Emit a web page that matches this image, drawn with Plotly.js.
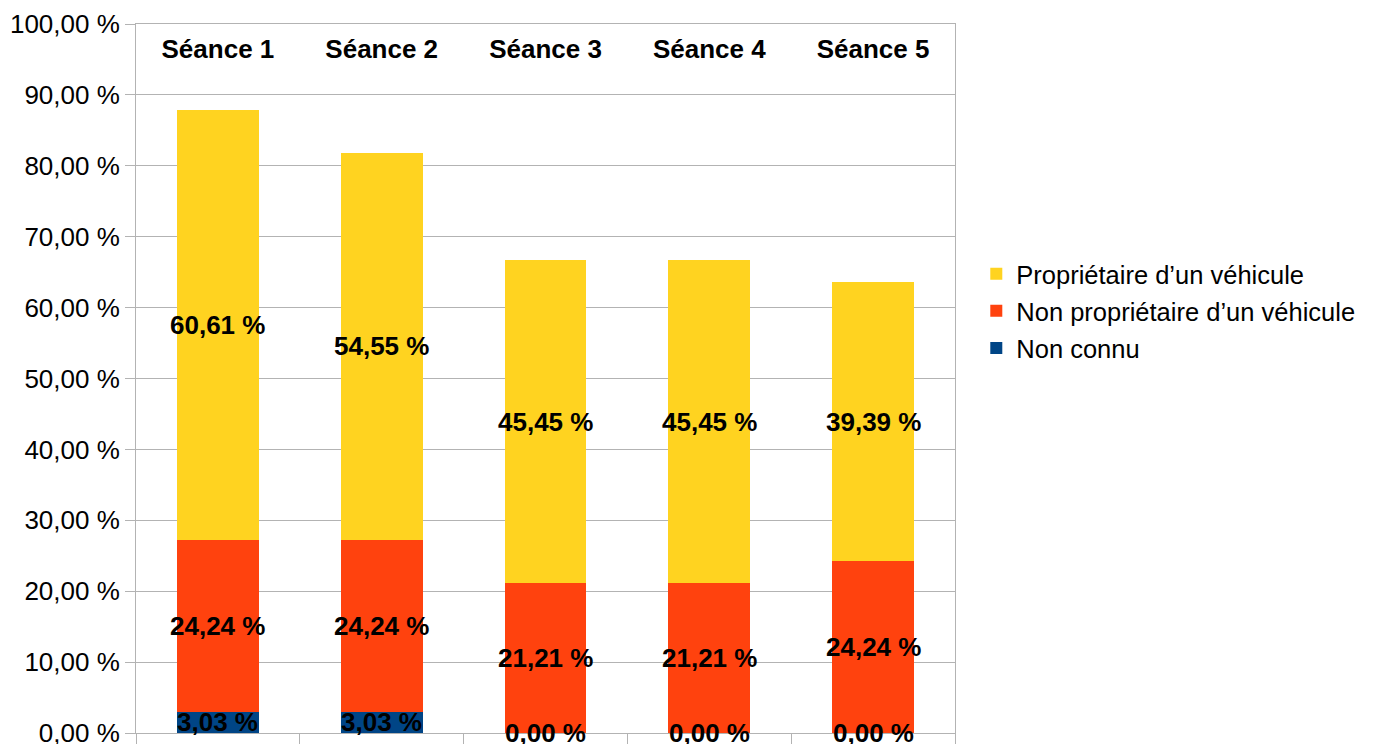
<!DOCTYPE html>
<html>
<head>
<meta charset="utf-8">
<script src="https://cdn.plot.ly/plotly-3.0.1.min.js"></script>
<style>html,body{margin:0;padding:0;background:#fff;}#chart{width:1376px;height:744px;}</style>
</head>
<body>
<div id="chart"></div>
<script>
const categories = ["Séance 1", "Séance 2", "Séance 3", "Séance 4", "Séance 5"];
const nonConnu = [3.03, 3.03, 0.00, 0.00, 0.00];
const nonProprietaire = [24.24, 24.24, 21.21, 21.21, 24.24];
const proprietaire = [60.61, 54.55, 45.45, 45.45, 39.39];
const seriesNames = ["Non connu", "Non propriétaire d’un véhicule", "Propriétaire d’un véhicule"];
const yTicks = [0, 10, 20, 30, 40, 50, 60, 70, 80, 90, 100];

const colors = ["#004586", "#ff420e", "#ffd320"];
const FONT = "Liberation Sans, Arial, sans-serif";
const series = [nonConnu, nonProprietaire, proprietaire];

function fmt(v) { return v.toFixed(2).replace(".", ",") + " %"; }

const traces = [];
series.forEach((vals, i) => {
  traces.push({
    type: "bar", x: categories, y: vals, name: seriesNames[i],
    xaxis: "x", yaxis: "y", legendgroup: "g" + i, legendrank: series.length - i,
    marker: {color: colors[i], line: {width: 0}}, width: 0.5, hoverinfo: "skip", showlegend: true
  });
});
// data labels centred in each segment
const annotations = [];
let base = categories.map(() => 0);
series.forEach((vals) => {
  vals.forEach((v, j) => {
    annotations.push({
      xref: "x", yref: "y", x: categories[j], y: base[j] + v / 2,
      text: fmt(v), showarrow: false, yshift: 0,
      xanchor: "center", yanchor: "middle",
      font: {family: FONT, size: 26, color: "#000", weight: "bold"}
    });
  });
  base = base.map((b, j) => b + vals[j]);
});
// invisible anchor trace so the top category axis is drawn
traces.push({
  type: "scatter", mode: "none", x: categories, y: categories.map(() => null),
  xaxis: "x2", yaxis: "y", showlegend: false, hoverinfo: "skip"
});

const layout = {
  width: 1376, height: 744,
  margin: {l: 136, r: 421, t: 24, b: 11, pad: 0},
  paper_bgcolor: "#fff", plot_bgcolor: "#fff",
  barmode: "stack",
  hovermode: false,
  font: {family: FONT, color: "#000"},
  annotations: annotations,
  xaxis: {
    type: "category", categoryorder: "array", categoryarray: categories, range: [-0.5, 4.5],
    side: "bottom", anchor: "y", tickson: "boundaries",
    ticks: "outside", ticklen: 14, tickcolor: "#b3b3b3", tickwidth: 1,
    showticklabels: false, showgrid: false, zeroline: false,
    showline: true, mirror: true, linecolor: "#b3b3b3", linewidth: 1
  },
  xaxis2: {
    type: "category", categoryorder: "array", categoryarray: categories, range: [-0.5, 4.5],
    overlaying: "x", anchor: "free", position: 0.945, side: "top",
    ticks: "",
    tickfont: {family: FONT, size: 26, color: "#000", weight: "bold"},
    showgrid: false, zeroline: false, showline: false
  },
  yaxis: {
    range: [0, 100], tickmode: "array", tickvals: yTicks, ticktext: yTicks.map(fmt),
    tickfont: {family: FONT, size: 26, color: "#000"}, ticklabeloverflow: "allow",
    ticks: "outside", ticklen: 10, tickcolor: "#b3b3b3", tickwidth: 1,
    gridcolor: "#b3b3b3", gridwidth: 1, zeroline: false,
    showline: true, mirror: true, linecolor: "#b3b3b3", linewidth: 1
  },
  legend: {
    x: 1.026, y: 0.595, xanchor: "left", yanchor: "middle",
    traceorder: "grouped", tracegroupgap: 1,
    font: {family: FONT, size: 25.5, color: "#000"},
    bgcolor: "rgba(0,0,0,0)", borderwidth: 0
  }
};

Plotly.newPlot("chart", traces, layout, {displayModeBar: false, staticPlot: true});
</script>
</body>
</html>
